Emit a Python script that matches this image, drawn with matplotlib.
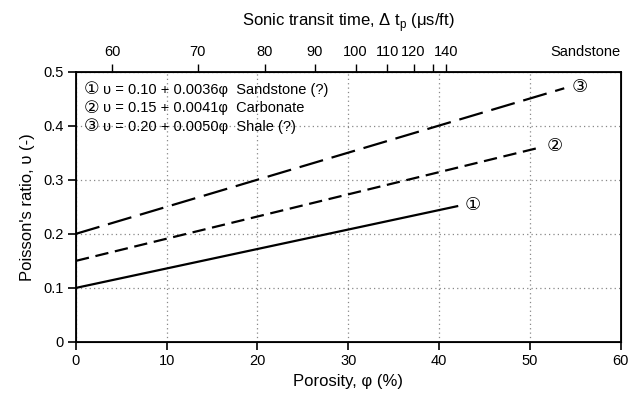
"""Poisson's ratio vs porosity with sonic transit time on the top axis."""

import matplotlib
matplotlib.use("Agg")
import matplotlib.pyplot as plt

FONTS = ["Liberation Sans", "DejaVu Sans"]
plt.rcParams["font.family"] = FONTS
plt.rcParams["mathtext.fontset"] = "custom"
plt.rcParams["mathtext.rm"] = "Liberation Sans"

# line endpoints: (porosity %, Poisson's ratio)
labels = ["①", "②", "③"]
phi_start = [0, 0, 0]
phi_end = [42.0, 51.0, 53.8]
nu_start = [0.10, 0.15, 0.20]
nu_end = [0.251, 0.359, 0.469]
legend_text = [
    "υ = 0.10 + 0.0036φ  Sandstone (?)",
    "υ = 0.15 + 0.0041φ  Carbonate",
    "υ = 0.20 + 0.0050φ  Shale (?)",
]

# top axis: sonic transit time ticks at their porosity positions (sandstone)
dt_values = [60, 70, 80, 90, 100, 110, 120, 130, 140]
dt_labels = ["60", "70", "80", "90", "100", "110", "120", "", "140"]
dt_porosity = [4.0, 13.4, 20.8, 26.3, 30.8, 34.3, 37.2, 39.3, 40.8]

dash_styles = ["-", (0, (6, 3)), (0, (11, 4))]

fig = plt.figure(figsize=(6.29, 4.04), dpi=100)
ax = fig.add_axes([0.1208, 0.1535, 0.8657, 0.6695])

for x0, x1, y0, y1, ls, lab in zip(phi_start, phi_end, nu_start, nu_end, dash_styles, labels):
    ax.plot([x0, x1], [y0, y1], color="black", lw=1.6, linestyle=ls, dash_capstyle="butt", zorder=3)
    ax.text(x1 + 1.7, y1 + 0.002, lab, fontsize=13, ha="center", va="center", family=FONTS)

ax.set_xlim(0, 60)
ax.set_ylim(0, 0.5)
ax.set_xticks([0, 10, 20, 30, 40, 50, 60])
ax.set_yticks([0, 0.1, 0.2, 0.3, 0.4, 0.5])
ax.set_yticklabels(["0", "0.1", "0.2", "0.3", "0.4", "0.5"])
ax.tick_params(direction="out", length=6, width=1.2, labelsize=10.5, pad=3)
for s in ax.spines.values():
    s.set_linewidth(1.3)
ax.grid(True, linestyle=(0, (1, 2.5)), color="#888888", lw=0.9)

ax.set_xlabel("Porosity, φ (%)", fontsize=12, labelpad=4)
ax.set_ylabel("Poisson's ratio, υ (-)", fontsize=12, labelpad=6)

for i, (lab, txt) in enumerate(zip(labels, legend_text)):
    y = 0.466 - i * 0.034
    ax.text(0.9, y, lab, fontsize=12.5, ha="left", va="center", family=FONTS)
    ax.text(3.0, y, txt, fontsize=10.5, ha="left", va="center", family=FONTS)

top = ax.twiny()
top.set_xlim(ax.get_xlim())
top.set_xticks(dt_porosity)
top.set_xticklabels(dt_labels)
top.tick_params(direction="out", length=6, width=1.0, labelsize=10.5, pad=3)
top.set_xlabel("Sonic transit time, Δ t$_\\mathrm{p}$ (μs/ft)", fontsize=12, labelpad=14)
top.text(1.0, 1.045, "Sandstone", transform=ax.transAxes, fontsize=10.5, ha="right", va="bottom")

fig.savefig("out.png", dpi=100)
